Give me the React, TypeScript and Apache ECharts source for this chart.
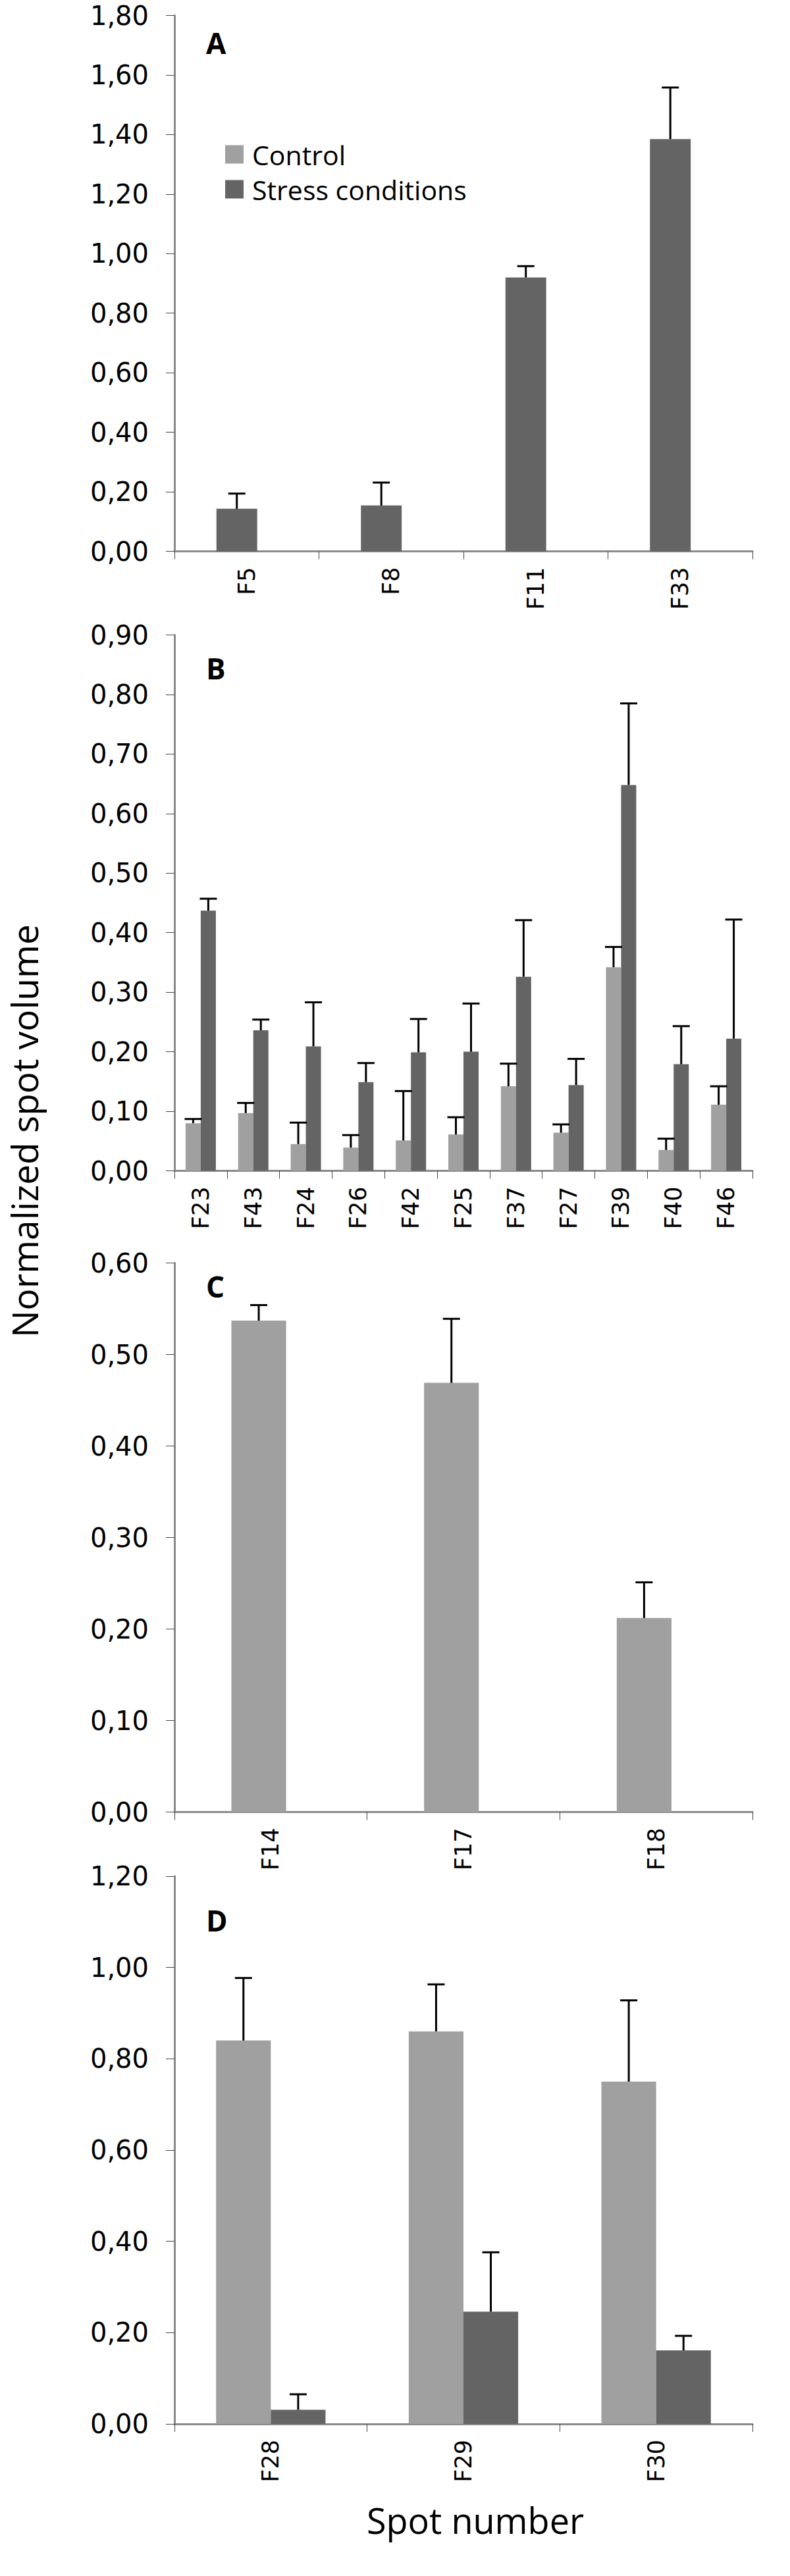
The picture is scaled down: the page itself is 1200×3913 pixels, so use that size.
import React, { useEffect, useRef } from "react";
import * as echarts from "echarts";

// ---- Data ----
const catsA = ["F5", "F8", "F11", "F33"];
const stressA = [0.143, 0.154, 0.92, 1.385];
const stressSdA = [0.051, 0.077, 0.038, 0.173];

const catsB = ["F23", "F43", "F24", "F26", "F42", "F25", "F37", "F27", "F39", "F40", "F46"];
const controlB = [0.08, 0.097, 0.045, 0.039, 0.051, 0.061, 0.142, 0.064, 0.342, 0.035, 0.111];
const controlSdB = [0.007, 0.017, 0.036, 0.021, 0.083, 0.029, 0.038, 0.014, 0.034, 0.019, 0.031];
const stressB = [0.437, 0.236, 0.209, 0.149, 0.199, 0.2, 0.326, 0.144, 0.648, 0.179, 0.222];
const stressSdB = [0.02, 0.018, 0.074, 0.032, 0.056, 0.081, 0.095, 0.044, 0.137, 0.064, 0.2];

const catsC = ["F14", "F17", "F18"];
const controlC = [0.537, 0.469, 0.212];
const controlSdC = [0.017, 0.07, 0.039];

const catsD = ["F28", "F29", "F30"];
const controlD = [0.84, 0.86, 0.75];
const controlSdD = [0.137, 0.103, 0.178];
const stressD = [0.031, 0.246, 0.161];
const stressSdD = [0.034, 0.13, 0.032];

const legendNames = ["Control", "Stress conditions"];
const yTitle = "Normalized spot volume";
const xTitle = "Spot number";

// ---- Styles / layout ----
const LIGHT = "#a0a0a0";
const DARK = "#646464";
const AXIS = "#8a8a8a";
const GRID_LEFT = 265;
const GRID_WIDTH = 878;

type S = { name: string; values: (number | null)[]; sd: number[] | null; color: string; width: number };
type P = { cats: string[]; top: number; height: number; max: number; interval: number; letter: string; letterY: number; series: S[] };

const none = (c: string[]) => c.map(() => null);

const panels: P[] = [
  {
    cats: catsA, top: 23.5, height: 814, max: 1.8, interval: 0.2, letter: "A", letterY: 73,
    series: [
      { name: "Stress conditions", values: stressA, sd: stressSdA, color: DARK, width: 0.282 },
      { name: "Control", values: none(catsA), sd: null, color: LIGHT, width: 0.137 },
    ],
  },
  {
    cats: catsB, top: 964.5, height: 814, max: 0.9, interval: 0.1, letter: "B", letterY: 1023,
    series: [
      { name: "Control", values: controlB, sd: controlSdB, color: LIGHT, width: 0.288 },
      { name: "Stress conditions", values: stressB, sd: stressSdB, color: DARK, width: 0.288 },
    ],
  },
  {
    cats: catsC, top: 1918.5, height: 834, max: 0.6, interval: 0.1, letter: "C", letterY: 1962,
    series: [
      { name: "Control", values: controlC, sd: controlSdC, color: LIGHT, width: 0.284 },
      { name: "Stress conditions", values: none(catsC), sd: null, color: DARK, width: 0.125 },
    ],
  },
  {
    cats: catsD, top: 2850, height: 832, max: 1.2, interval: 0.2, letter: "D", letterY: 2925,
    series: [
      { name: "Control", values: controlD, sd: controlSdD, color: LIGHT, width: 0.284 },
      { name: "Stress conditions", values: stressD, sd: stressSdD, color: DARK, width: 0.284 },
    ],
  },
];

const fmt = (v: number) => v.toFixed(2).replace(".", ",");

function buildOption() {
  const grid: any[] = [];
  const xAxis: any[] = [];
  const yAxis: any[] = [];
  const series: any[] = [];
  const graphic: any[] = [];

  panels.forEach((p, gi) => {
    grid.push({ left: GRID_LEFT, top: p.top, width: GRID_WIDTH, height: p.height });
    xAxis.push({
      type: "category",
      gridIndex: gi,
      data: p.cats,
      axisLine: { show: true, lineStyle: { color: AXIS, width: 3 } },
      axisTick: { show: true, length: 12, lineStyle: { color: "#444", width: 1 } },
      axisLabel: { rotate: 90, interval: 0, margin: 24, fontSize: 35, fontFamily: "DejaVu Sans", color: "#000" },
      splitLine: { show: false },
    });
    yAxis.push({
      type: "value",
      gridIndex: gi,
      min: 0,
      max: p.max,
      interval: p.interval,
      axisLine: { show: true, lineStyle: { color: AXIS, width: 3 } },
      axisTick: { show: true, length: 13, lineStyle: { color: "#444", width: 1 } },
      axisLabel: { margin: 39, fontSize: 40, fontFamily: "DejaVu Sans", color: "#000", formatter: fmt },
      splitLine: { show: false },
    });

    const total = p.series.reduce((a, s) => a + s.width, 0);
    let acc = -total / 2;
    p.series.forEach((s) => {
      const offset = acc + s.width / 2;
      acc += s.width;
      series.push({
        type: "bar",
        name: s.name,
        xAxisIndex: gi,
        yAxisIndex: gi,
        data: s.values,
        barWidth: `${s.width * 100}%`,
        barGap: "0%",
        itemStyle: { color: s.color },
        emphasis: { disabled: true },
        z: 2,
      });
      if (s.sd) {
        const sd = s.sd;
        series.push({
          type: "custom",
          name: s.name + " error",
          xAxisIndex: gi,
          yAxisIndex: gi,
          z: 5,
          silent: true,
          data: (s.values as number[]).map((v, i) => [i, v, v + sd[i]]),
          renderItem: (params: any, api: any) => {
            const idx = api.value(0);
            const base = api.coord([idx, api.value(1)]);
            const top = api.coord([idx, api.value(2)]);
            const band = api.size([1, 0])[0];
            const cx = base[0] + offset * band;
            return {
              type: "group",
              children: [
                { type: "line", shape: { x1: cx, y1: base[1], x2: cx, y2: top[1] }, style: { stroke: "#000", lineWidth: 3 } },
                { type: "line", shape: { x1: cx - 13, y1: top[1], x2: cx + 13, y2: top[1] }, style: { stroke: "#000", lineWidth: 3 } },
              ],
            };
          },
        });
      }
    });

    graphic.push({
      type: "text",
      left: 313,
      top: p.letterY - 30,
      style: { text: p.letter, fontFamily: "Open Sans", fontWeight: "bold", fontSize: 44, fill: "#000" },
    });
  });

  graphic.push({
    type: "text",
    x: 36,
    y: 1718,
    rotation: Math.PI / 2,
    style: { text: yTitle, fontFamily: "Open Sans", fontSize: 55, fill: "#000", align: "center", verticalAlign: "middle" },
  });
  graphic.push({
    type: "text",
    x: 722,
    y: 3828,
    style: { text: xTitle, fontFamily: "Open Sans", fontSize: 54, fill: "#000", align: "center", verticalAlign: "middle" },
  });

  return {
    animation: false,
    backgroundColor: "#fff",
    grid,
    xAxis,
    yAxis,
    series,
    graphic,
    legend: {
      data: legendNames,
      orient: "vertical",
      left: 342,
      top: 214,
      padding: 0,
      itemWidth: 28,
      itemHeight: 28,
      itemGap: 12,
      icon: "rect",
      selectedMode: false,
      textStyle: { fontFamily: "Open Sans", fontSize: 41, color: "#000", padding: [0, 0, 0, 8] },
    },
  };
}

export default function App() {
  const ref = useRef<HTMLDivElement>(null);
  useEffect(() => {
    document.body.style.margin = "0";
    if (!ref.current) return;
    const chart = echarts.init(ref.current, undefined, { renderer: "svg" });
    chart.setOption(buildOption() as any);
    return () => chart.dispose();
  }, []);
  return <div ref={ref} style={{ width: 1200, height: 3913 }} />;
}
